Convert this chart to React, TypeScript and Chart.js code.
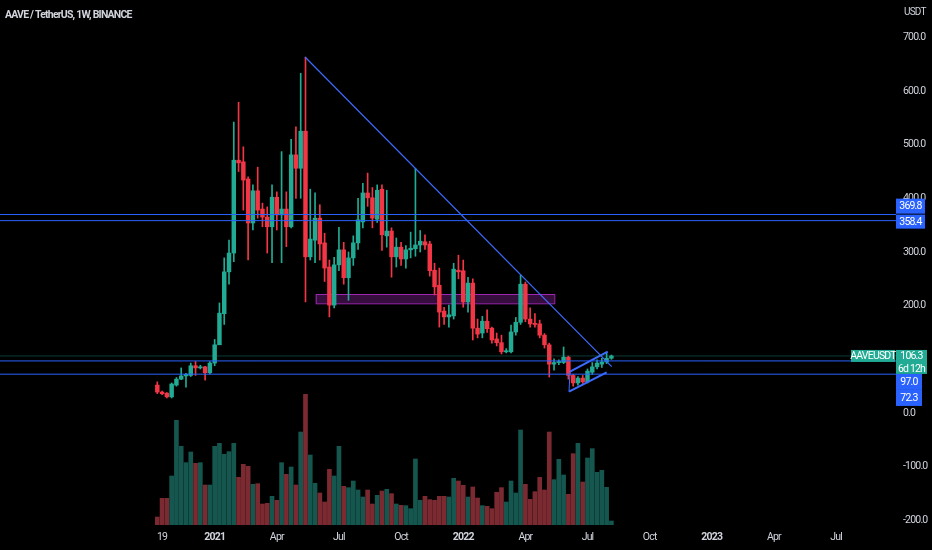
import React, { useEffect, useRef } from "react";
import { Chart, registerables } from "chart.js";

Chart.register(...registerables);

// ---- Weekly candles (index 0 = week of Oct 12, 2020) ----
const OPEN = [
  52, 39, 37, 30, 52, 63, 69, 70, 88, 84,
  86, 75, 93, 127, 185, 263, 298, 471, 468, 436,
  354, 414, 380, 365, 347, 402, 369, 380, 347, 481,
  456, 525, 291, 322, 363, 317, 272, 201, 276, 304,
  252, 289, 317, 356, 410, 401, 361, 417, 330, 339,
  291, 309, 287, 304, 306, 313, 319, 315, 266, 238,
  190, 179, 181, 266, 265, 207, 242, 158, 149, 171,
  158, 138, 131, 114, 114, 151, 169, 240, 175, 167,
  166, 145, 127, 91, 94, 94, 104, 70, 56, 65,
  58, 76, 86, 91, 95, 102,
];
const HIGH = [
  58, 41, 38, 56, 66, 84, 74, 93, 96, 89,
  87, 96, 137, 205, 289, 322, 542, 579, 496, 440,
  425, 458, 391, 384, 425, 412, 487, 412, 510, 533,
  633, 663, 417, 410, 388, 335, 285, 290, 346, 318,
  300, 330, 400, 428, 447, 420, 425, 425, 415, 345,
  326, 318, 312, 337, 456, 340, 332, 320, 279, 270,
  197, 201, 279, 294, 285, 253, 250, 175, 180, 192,
  160, 149, 145, 120, 164, 178, 257, 244, 196, 185,
  173, 148, 130, 101, 99, 123, 106, 72, 68, 70,
  82, 94, 99, 102, 112, 108,
];
const LOW = [
  36, 34, 28, 28, 50, 62, 48, 68, 70, 82,
  61, 73, 88, 140, 165, 240, 282, 450, 378, 285,
  341, 363, 347, 298, 280, 341, 280, 310, 345, 400,
  400, 207, 285, 280, 285, 245, 179, 196, 265, 240,
  210, 275, 305, 345, 385, 345, 355, 303, 309, 253,
  272, 275, 270, 289, 292, 300, 305, 255, 220, 160,
  165, 160, 175, 250, 197, 188, 136, 140, 140, 150,
  130, 125, 110, 112, 112, 145, 165, 170, 160, 160,
  140, 121, 67, 80, 90, 92, 63, 50, 52, 55,
  56, 72, 82, 85, 92, 100,
];
const CLOSE = [
  39, 36, 30, 54, 63, 69, 72, 88, 84, 86,
  75, 93, 127, 186, 263, 298, 471, 466, 434, 354,
  414, 378, 365, 347, 402, 369, 380, 347, 481, 456,
  525, 291, 324, 363, 315, 270, 201, 276, 304, 252,
  289, 317, 360, 410, 401, 363, 415, 332, 339, 291,
  309, 287, 304, 307, 313, 320, 313, 265, 235, 188,
  179, 183, 268, 263, 207, 242, 158, 147, 171, 157,
  136, 131, 114, 116, 151, 169, 240, 175, 166, 165,
  145, 127, 91, 94, 96, 104, 70, 56, 65, 58,
  78, 86, 93, 95, 102, 106.3,
];
// relative volume units
const VOLUME = [
  24, 80, 80, 147, 314, 236, 187, 219, 185, 187,
  120, 120, 236, 245, 212, 220, 245, 143, 182, 176,
  122, 124, 63, 65, 86, 74, 187, 152, 174, 120,
  279, 392, 210, 125, 96, 69, 167, 147, 236, 116,
  112, 132, 105, 84, 105, 63, 89, 102, 107, 94,
  63, 59, 58, 49, 198, 74, 86, 76, 74, 86,
  86, 84, 140, 132, 119, 84, 114, 81, 58, 56,
  49, 98, 112, 69, 132, 96, 285, 122, 77, 100,
  143, 105, 279, 136, 197, 150, 92, 214, 245, 129,
  201, 229, 158, 164, 113, 12,
];

const X_TICKS = [1, 12, 25, 38, 51, 64, 77, 90, 103, 116, 129, 142];
const X_TICK_LABELS = ["19", "2021", "Apr", "Jul", "Oct", "2022", "Apr", "Jul", "Oct", "2023", "Apr", "Jul"];
const YEAR_LABELS = ["2021", "2022", "2023"];
const PRICE_TICKS = [-200, -100, 0, 100, 200, 300, 400, 500, 600, 700];

const H_LEVELS = [369.8, 358.4, 97.0, 72.3];
const LAST_PRICE = 106.3;
const TREND_X = [30.9, 95.06];
const TREND_Y = [663.3, 86.3];
const CH_UP_X = [86.34, 94.23];
const CH_UP_Y = [77, 114.2];
const CH_LO_X = [86.13, 94.02];
const CH_LO_Y = [39.7, 75.8];
const ZONE_X = [33.14, 83.05];
const ZONE_Y = [204.4, 221.7];

const X_MIN = -32.91;
const X_MAX = 154.54;
const Y_MIN = -208.7;
const Y_MAX = 769.5;
const VOL_MAX = 1575;

const TITLE = "AAVE / TetherUS, 1W, BINANCE";
const SYMBOL = "AAVEUSDT";
const CURRENCY = "USDT";
const COUNTDOWN = "6d 12h";

const GREEN = "#22ab94";
const RED = "#f23645";
const VGREEN = "#15574f";
const VRED = "#7a2a30";
const BLUE = "#2962ff";
const TEXT = "#d1d4dc";
const FONT = "Roboto, 'Liberation Sans', sans-serif";
const SPACING = "-0.8px";

export default function App() {
  const ref = useRef<HTMLCanvasElement>(null);

  useEffect(() => {
    document.body.style.margin = "0";
    document.body.style.background = "#000";
    const canvas = ref.current!;
    const idx = OPEN.map((_, i) => i);
    const up = idx.map((i) => CLOSE[i] >= OPEN[i]);
    const candleCol = up.map((u) => (u ? GREEN : RED));
    const volCol = up.map((u) => (u ? VGREEN : VRED));

    const line = (xs: number[], ys: number[], color: string, width: number, dash: number[] = []) => ({
      type: "line" as const,
      data: xs.map((x, k) => ({ x, y: ys[k] })),
      borderColor: color,
      borderWidth: width,
      borderDash: dash,
      pointRadius: 0,
      fill: false,
      tension: 0,
      yAxisID: "y",
      xAxisID: "x",
      order: 0,
    });

    const overlay = {
      id: "overlay",
      beforeDraw(chart: any) {
        const { ctx, width, height } = chart;
        ctx.fillStyle = "#000";
        ctx.fillRect(0, 0, width, height);
        ctx.letterSpacing = SPACING;
      },
      beforeDatasetsDraw(chart: any) {
        const { ctx } = chart;
        const xs = chart.scales.x;
        const ys = chart.scales.y;
        const x0 = xs.getPixelForValue(ZONE_X[0]);
        const x1 = xs.getPixelForValue(ZONE_X[1]);
        const y0 = ys.getPixelForValue(ZONE_Y[1]);
        const y1 = ys.getPixelForValue(ZONE_Y[0]);
        ctx.save();
        ctx.fillStyle = "rgba(156,39,176,0.35)";
        ctx.fillRect(x0, y0, x1 - x0, y1 - y0);
        ctx.strokeStyle = "#9c27b0";
        ctx.lineWidth = 1;
        ctx.strokeRect(x0 + 0.5, y0 + 0.5, x1 - x0, y1 - y0);
        ctx.restore();
      },
      afterDraw(chart: any) {
        const { ctx, chartArea } = chart;
        const ys = chart.scales.y;
        const right = chartArea.right;
        ctx.save();
        // title
        ctx.fillStyle = TEXT;
        ctx.letterSpacing = "-0.8px";
        ctx.font = `bold 10.5px ${FONT}`;
        ctx.textAlign = "left";
        ctx.textBaseline = "middle";
        ctx.fillText(TITLE, 5, 15);
        ctx.letterSpacing = SPACING;
        // currency
        ctx.font = `10px ${FONT}`;
        ctx.fillText(CURRENCY, right + 8, 12);

        const box = (x: number, y: number, w: number, h: number, color: string, texts: string[], step = 12) => {
          ctx.fillStyle = color;
          ctx.fillRect(x, y, w, h);
          ctx.fillStyle = "#ffffff";
          ctx.font = `10.5px ${FONT}`;
          ctx.textAlign = "center";
          ctx.textBaseline = "middle";
          texts.forEach((t, k) => ctx.fillText(t, x + w / 2, y + h / texts.length / 2 + 0.5 + k * step));
        };
        // upper level labels
        const y358 = ys.getPixelForValue(H_LEVELS[1]) - 6;
        box(right, y358, 29, 14, BLUE, [H_LEVELS[1].toFixed(1)]);
        box(right, y358 - 16, 29, 15, BLUE, [H_LEVELS[0].toFixed(1)]);
        // current price group
        const yp = ys.getPixelForValue(LAST_PRICE) - 6;
        box(right - 45, yp, 44, 12, GREEN, [SYMBOL]);
        box(right, yp, 31, 24, GREEN, [LAST_PRICE.toFixed(1), COUNTDOWN], 12.5);
        box(right, yp + 24, 26, 16, BLUE, [H_LEVELS[2].toFixed(1)]);
        box(right, yp + 40, 26, 16, BLUE, [H_LEVELS[3].toFixed(1)]);
        ctx.restore();
      },
    };

    const chart = new Chart(canvas, {
      type: "bar",
      data: {
        datasets: [
          ...H_LEVELS.map((v) => line([X_MIN, X_MAX], [v, v], BLUE, 1)),
          line([X_MIN, X_MAX], [LAST_PRICE, LAST_PRICE], "rgba(34,171,148,0.35)", 1),
          line(TREND_X, TREND_Y, "#3d6bff", 1.2),
          line(CH_UP_X, CH_UP_Y, "#3d6bff", 2),
          line(CH_LO_X, CH_LO_Y, "#3d6bff", 2),
          line([CH_UP_X[0], CH_LO_X[0]], [CH_UP_Y[0], CH_LO_Y[0]], "#3d6bff", 1),
          {
            type: "bar",
            data: idx.map((i) => ({ x: i, y: [OPEN[i], CLOSE[i]] })),
            backgroundColor: candleCol,
            barThickness: 3.8,
            minBarLength: 1,
            grouped: false,
            yAxisID: "y",
            order: 1,
          },
          {
            type: "bar",
            data: idx.map((i) => ({ x: i, y: [LOW[i], HIGH[i]] })),
            backgroundColor: candleCol,
            barThickness: 1,
            grouped: false,
            yAxisID: "y",
            order: 2,
          },
          {
            type: "bar",
            data: idx.map((i) => ({ x: i, y: VOLUME[i] })),
            backgroundColor: volCol,
            barThickness: 4,
            grouped: false,
            yAxisID: "yv",
            order: 3,
          },
        ] as any,
      },
      options: {
        animation: false,
        responsive: false,
        maintainAspectRatio: false,
        events: [],
        layout: { padding: 0 },
        plugins: {
          legend: { display: false },
          tooltip: { enabled: false },
          title: { display: false },
        },
        scales: {
          x: {
            type: "linear",
            min: X_MIN,
            max: X_MAX,
            offset: false,
            grid: { display: false, drawTicks: false, offset: false },
            border: { display: false },
            ticks: {
              color: TEXT,
              padding: 6,
              maxRotation: 0,
              autoSkip: false,
              font: (c: any) => ({
                family: FONT,
                size: 10.5,
                weight: YEAR_LABELS.includes(c.tick?.label) ? "bold" : "normal",
              }),
              callback: (v: any) => {
                const k = X_TICKS.indexOf(Number(v));
                return k >= 0 ? X_TICK_LABELS[k] : "";
              },
            },
            afterBuildTicks: (s: any) => {
              s.ticks = X_TICKS.map((v) => ({ value: v }));
            },
            afterFit: (s: any) => {
              s.height = 25;
              s.paddingLeft = 0;
              s.paddingRight = 0;
            },
          },
          y: {
            type: "linear",
            position: "right",
            min: Y_MIN,
            max: Y_MAX,
            grid: { display: false, drawTicks: false },
            border: { display: false },
            ticks: {
              color: TEXT,
              padding: 7,
              font: { family: FONT, size: 10.5 },
              callback: (v: any) => Number(v).toFixed(1),
            },
            afterBuildTicks: (s: any) => {
              s.ticks = PRICE_TICKS.map((v) => ({ value: v }));
            },
            afterFit: (s: any) => {
              s.width = 36;
              s.paddingTop = 0;
              s.paddingBottom = 0;
            },
          },
          yv: { type: "linear", display: false, min: 0, max: VOL_MAX },
        },
      } as any,
      plugins: [overlay],
    });
    return () => chart.destroy();
  }, []);

  return (
    <div style={{ width: 932, height: 550, background: "#000" }}>
      <canvas ref={ref} width={932} height={550} style={{ display: "block" }} />
    </div>
  );
}
